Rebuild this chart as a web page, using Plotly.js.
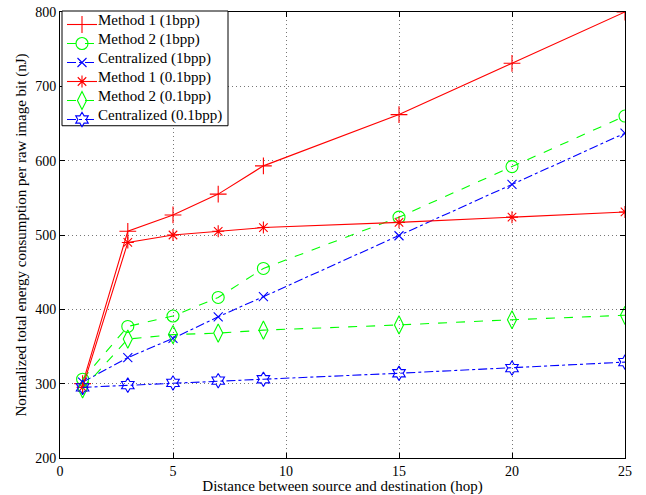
<!DOCTYPE html>
<html><head><meta charset="utf-8">
<script src="https://cdn.plot.ly/plotly-3.0.1.min.js"></script>
<style>body{margin:0;padding:0;background:#fff}#plot{width:646px;height:495px}</style>
</head><body><div id="plot"></div>
<script>
const hops = [1, 3, 5, 7, 9, 15, 20, 25];
const method1_1bpp = [300, 505, 527, 555, 593, 662, 731, 800];
const method2_1bpp = [306, 377, 391, 416, 455, 524, 592, 660];
const central_1bpp = [302, 335, 361, 390, 417, 499, 568, 637];
const method1_01bpp = [295, 490, 500, 505, 510, 517, 524, 531];
const method2_01bpp = [293, 360, 366, 368, 372, 379, 386, 392];
const central_01bpp = [295, 298, 301, 304, 306, 314, 321, 329];
const names = ['Method 1 (1bpp)', 'Method 2 (1bpp)', 'Centralized (1bpp)', 'Method 1 (0.1bpp)', 'Method 2 (0.1bpp)', 'Centralized (0.1bpp)'];
const xTicks = [0, 5, 10, 15, 20, 25];
const yTicks = [200, 300, 400, 500, 600, 700, 800];

const series = [method1_1bpp, method2_1bpp, central_1bpp, method1_01bpp, method2_01bpp, central_01bpp];
const colors = ['#ff0000', '#00ff00', '#0000ff', '#ff0000', '#00ff00', '#0000ff'];
const dashes = ['solid', 'dash', 'dashdot', 'solid', 'dash', 'dashdot'];
const symbols = ['cross-thin', 'circle-open', 'x-thin', 'asterisk', 'diamond-tall-open', 'hexagram-open'];
const sizes = [12, 12, 9, 10, 13, 11];

const traces = series.map((ys, i) => ({
  x: hops, y: ys, name: '', type: 'scatter', mode: 'lines+markers',
  line: {color: colors[i], width: 1.1, dash: dashes[i]},
  marker: {symbol: symbols[i], size: sizes[i], color: colors[i], line: {color: colors[i], width: 1.1}}
}));

const fam = 'Liberation Serif, Times New Roman, serif';
const font = {family: fam, size: 15, color: '#000'};
const tickFont = {family: fam, size: 14, color: '#000'};

// plot area in pixels: left 60, top 11, width 565, height 447
const plotL = 60, plotT = 11, plotW = 565, plotH = 447;
const px2x = p => (p - plotL) / plotW;
const px2y = p => 1 - (p - plotT) / plotH;
const legTop = 10, legStep = 19, legFirst = 19.5;
const annotations = names.map((n, i) => ({
  xref: 'paper', yref: 'paper', x: px2x(96), y: px2y(legFirst + i * legStep),
  xanchor: 'left', yanchor: 'middle', text: n, showarrow: false, font: font
}));

const layout = {
  width: 646, height: 495,
  margin: {l: 60, r: 21, t: 11, b: 37},
  paper_bgcolor: '#fff', plot_bgcolor: '#fff',
  font: font,
  showlegend: true,
  legend: {x: px2x(62), y: px2y(legTop), xanchor: 'left', yanchor: 'top', bgcolor: 'rgba(0,0,0,0)', borderwidth: 0,
    font: {family: fam, size: 10, color: 'rgba(0,0,0,0)'}, tracegroupgap: 0, itemwidth: 30},
  shapes: [{type: 'rect', xref: 'paper', yref: 'paper', x0: px2x(62), x1: px2x(228), y0: px2y(legFirst + 5.5 * legStep + 1), y1: px2y(legTop),
    fillcolor: '#fff', line: {color: '#000', width: 1}, layer: 'above'}],
  annotations: annotations,
  xaxis: {range: [0, 25], tickvals: xTicks, ticks: 'inside', ticklen: 5, tickcolor: '#000', mirror: 'ticks',
    showline: true, linecolor: '#000', linewidth: 1, showgrid: true, gridcolor: '#777', griddash: '1px,3px', gridwidth: 1,
    zeroline: false, title: {text: 'Distance between source and destination (hop)', font: font, standoff: 1}, tickfont: tickFont},
  yaxis: {range: [200, 800], tickvals: yTicks, ticks: 'inside', ticklen: 5, tickcolor: '#000', mirror: 'ticks',
    showline: true, linecolor: '#000', linewidth: 1, showgrid: true, gridcolor: '#777', griddash: '1px,3px', gridwidth: 1,
    zeroline: false, title: {text: 'Normalized total energy consumption per raw image bit (nJ)', font: font, standoff: 4}, tickfont: tickFont}
};
Plotly.newPlot('plot', traces, layout, {displayModeBar: false, staticPlot: true});
</script></body></html>
